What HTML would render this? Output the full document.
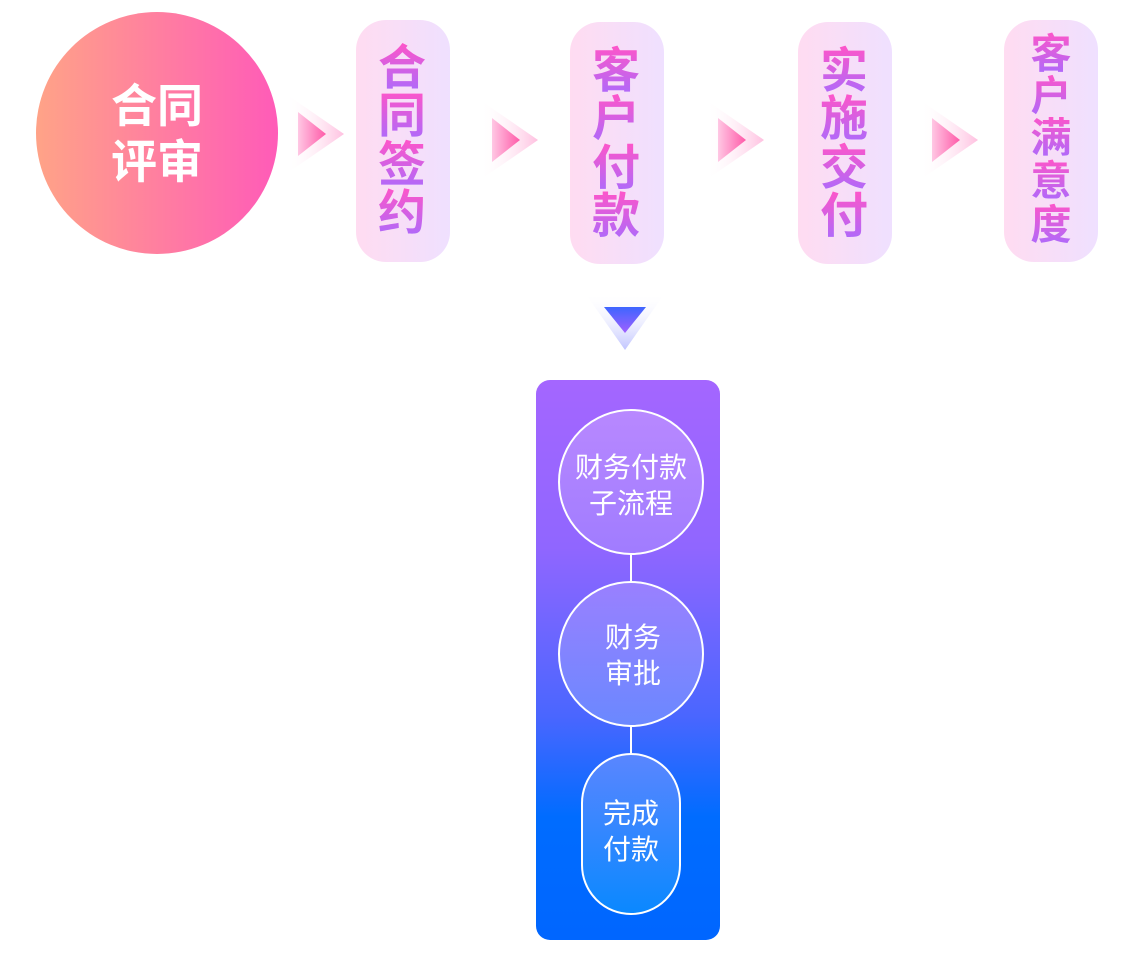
<!DOCTYPE html>
<html><head><meta charset="utf-8"><style>
html,body{margin:0;padding:0;background:#fff;width:1124px;height:956px;overflow:hidden}
text{font-family:"Liberation Sans","Noto Sans CJK SC",sans-serif}
</style></head><body>
<svg width="1124" height="956" viewBox="0 0 1124 956" xmlns="http://www.w3.org/2000/svg">
<defs>
<linearGradient id="cg" x1="0" y1="0" x2="1" y2="0"><stop offset="0" stop-color="#ffa387"/><stop offset="1" stop-color="#ff5bb8"/></linearGradient>
<linearGradient id="pg" x1="0" y1="0" x2="1" y2="0"><stop offset="0" stop-color="#ffdcf1"/><stop offset="1" stop-color="#efe0ff"/></linearGradient>
<linearGradient id="tg" x1="0" y1="0" x2="0" y2="1"><stop offset="0" stop-color="#ff55c8"/><stop offset="1" stop-color="#a86bff"/></linearGradient>
<linearGradient id="ao" x1="0" y1="0" x2="1" y2="0"><stop offset="0" stop-color="#fff" stop-opacity="0"/><stop offset="1" stop-color="#ffc0e0"/></linearGradient>
<linearGradient id="ai" x1="0" y1="0" x2="1" y2="0"><stop offset="0" stop-color="#ffc8e4"/><stop offset="1" stop-color="#ff5aa8"/></linearGradient>
<linearGradient id="do" x1="0" y1="0" x2="0" y2="1"><stop offset="0" stop-color="#fff" stop-opacity="0"/><stop offset="1" stop-color="#c0c4ff"/></linearGradient>
<linearGradient id="di" x1="0" y1="0" x2="0" y2="1"><stop offset="0" stop-color="#3e66ff"/><stop offset="1" stop-color="#a060ff"/></linearGradient>
<linearGradient id="bg" x1="0" y1="0" x2="0" y2="1"><stop offset="0" stop-color="#a466ff"/><stop offset="0.3" stop-color="#9066ff"/><stop offset="0.6" stop-color="#4a66ff"/><stop offset="0.78" stop-color="#006cff"/><stop offset="1" stop-color="#0066ff"/></linearGradient>
<linearGradient id="n1" x1="0" y1="0" x2="0" y2="1"><stop offset="0" stop-color="#b888ff"/><stop offset="1" stop-color="#a07cff"/></linearGradient>
<linearGradient id="n2" x1="0" y1="0" x2="0" y2="1"><stop offset="0" stop-color="#9a80ff"/><stop offset="1" stop-color="#6a88ff"/></linearGradient>
<linearGradient id="n3" x1="0" y1="0" x2="0" y2="1"><stop offset="0" stop-color="#5a86ff"/><stop offset="1" stop-color="#0a88ff"/></linearGradient>
</defs>

<circle cx="157" cy="133" r="121" fill="url(#cg)"/>
<text x="157" y="122" font-size="46" font-weight="bold" fill="#fff" text-anchor="middle">合同</text>
<text x="157" y="178" font-size="46" font-weight="bold" fill="#fff" text-anchor="middle">评审</text>

<g>
<rect x="356" y="20" width="94" height="242" rx="30" fill="url(#pg)"/>
<rect x="570" y="22" width="94" height="242" rx="30" fill="url(#pg)"/>
<rect x="798" y="22" width="94" height="242" rx="30" fill="url(#pg)"/>
<rect x="1004" y="20" width="94" height="242" rx="30" fill="url(#pg)"/>
</g>

<g font-size="48" font-weight="bold" fill="url(#tg)" text-anchor="middle">
<g><text x="402" y="84">合</text><text x="402" y="132">同</text><text x="402" y="181">签</text><text x="402" y="229">约</text></g>
<g><text x="616" y="87">客</text><text x="616" y="135">户</text><text x="616" y="184">付</text><text x="616" y="232">款</text></g>
<g><text x="844" y="87">实</text><text x="844" y="135">施</text><text x="844" y="184">交</text><text x="844" y="232">付</text></g>
</g>
<g font-size="41" font-weight="bold" fill="url(#tg)" text-anchor="middle">
<text x="1051" y="68">客</text><text x="1051" y="110">户</text><text x="1051" y="152">满</text><text x="1051" y="195">意</text><text x="1051" y="239">度</text>
</g>

<g>
<g transform="translate(286,94)"><polygon points="0,0 58,40 0,80" fill="url(#ao)"/><polygon points="12,18 40,40 12,62" fill="url(#ai)"/></g>
<g transform="translate(480,100)"><polygon points="0,0 58,40 0,80" fill="url(#ao)"/><polygon points="12,18 40,40 12,62" fill="url(#ai)"/></g>
<g transform="translate(706,100)"><polygon points="0,0 58,40 0,80" fill="url(#ao)"/><polygon points="12,18 40,40 12,62" fill="url(#ai)"/></g>
<g transform="translate(920,100)"><polygon points="0,0 58,40 0,80" fill="url(#ao)"/><polygon points="12,18 40,40 12,62" fill="url(#ai)"/></g>
</g>

<polygon points="585,293 665,293 625,350" fill="url(#do)"/>
<polygon points="604,307 646,307 625,333" fill="url(#di)"/>

<rect x="536" y="380" width="184" height="560" rx="14" fill="url(#bg)"/>
<line x1="631" y1="554" x2="631" y2="582" stroke="#fff" stroke-width="2"/>
<line x1="631" y1="726" x2="631" y2="754" stroke="#fff" stroke-width="2"/>
<circle cx="631" cy="482" r="72" fill="url(#n1)" stroke="#fff" stroke-width="2"/>
<circle cx="631" cy="654" r="72" fill="url(#n2)" stroke="#fff" stroke-width="2"/>
<rect x="582" y="754" width="98" height="160" rx="49" fill="url(#n3)" stroke="#fff" stroke-width="2"/>
<g font-size="28" fill="#fff" text-anchor="middle">
<text x="631" y="477">财务付款</text><text x="631" y="513">子流程</text>
<text x="633" y="647">财务</text><text x="633" y="683">审批</text>
<text x="631" y="823">完成</text><text x="631" y="859">付款</text>
</g>
</svg>
</body></html>
